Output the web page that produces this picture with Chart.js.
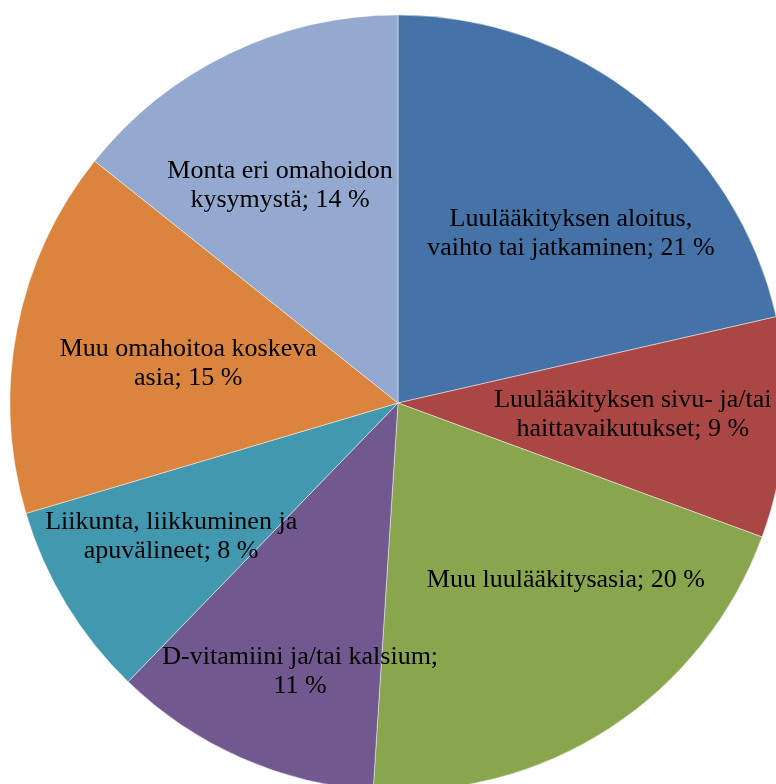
<!DOCTYPE html>
<html lang="fi">
<head>
<meta charset="utf-8">
<title>Yhteydenottojen aiheet</title>
<script src="https://cdn.jsdelivr.net/npm/chart.js@4.4.1/dist/chart.umd.min.js"></script>
<style>
    html, body {
        margin: 0;
        padding: 0;
        width: 776px;
        height: 784px;
        overflow: hidden;
        background: #fff;
    }
    #wrap {
        position: absolute;
        left: 10px;
        top: 15px;
    }
</style>
</head>
<body>
<div id="wrap">
    <canvas id="pieChart" width="776" height="776"></canvas>
</div>
<script>
// Aiheet ('|' = rivinvaihto, lopussa '|' = vaihto ennen prosenttia)
const categories = [
    'Luulääkityksen aloitus,|vaihto tai jatkaminen',
    'Luulääkityksen sivu- ja/tai|haittavaikutukset',
    'Muu luulääkitysasia',
    'D-vitamiini ja/tai kalsium|',
    'Liikunta, liikkuminen ja|apuvälineet',
    'Muu omahoitoa koskeva|asia',
    'Monta eri omahoidon|kysymystä'
];
const shares = [21, 9, 20, 11, 8, 15, 14];
const sliceColors = ['#4572A7', '#AA4643', '#89A54E', '#71588F', '#4198AF', '#DB843D', '#93A9CF'];

// Tekstin sijainti: osuus säteestä ja kulman siirto (astetta)
const labelPlacement = [
    [0.623, 7.1],
    [0.606, -0.8],
    [0.629, -10.4],
    [0.738, -3.9],
    [0.678, 0.8],
    [0.55, -0.5],
    [0.637, -2.8]
];

function labelLines(cat, v) {
    const brk = cat.endsWith('|');
    const name = brk ? cat.slice(0, -1) : cat;
    return (name + ';' + (brk ? '|' : ' ') + v + ' %').split('|');
}

// Piirtää tekstit lohkojen päälle
const sliceLabels = {
    id: 'sliceLabels',
    afterDatasetsDraw(chart) {
        const ctx = chart.ctx;
        const meta = chart.getDatasetMeta(0);
        ctx.save();
        ctx.font = '26px "Liberation Serif", "DejaVu Serif", serif';
        ctx.fillStyle = '#000';
        ctx.textAlign = 'center';
        ctx.textBaseline = 'middle';
        const lineH = 29;
        meta.data.forEach((arc, i) => {
            const p = arc.getProps(['x', 'y', 'startAngle', 'endAngle', 'outerRadius'], true);
            const [f, shift] = labelPlacement[i];
            const a = (p.startAngle + p.endAngle) / 2 + shift * Math.PI / 180;
            const cx = p.x + Math.cos(a) * p.outerRadius * f;
            const cy = p.y + Math.sin(a) * p.outerRadius * f;
            const lines = labelLines(categories[i], shares[i]);
            const top = cy - (lines.length - 1) * lineH / 2;
            lines.forEach((t, j) => ctx.fillText(t, cx, top + j * lineH));
        });
        ctx.restore();
    }
};

const ctx = document.getElementById('pieChart').getContext('2d');
new Chart(ctx, {
    type: 'pie',
    data: {
        labels: categories.map(c => c.replace(/\|/g, ' ').trim()),
        datasets: [{
            data: shares,
            backgroundColor: sliceColors,
            borderColor: 'rgba(255, 255, 255, 0.45)',
            borderWidth: 1,
            radius: 388
        }]
    },
    options: {
        responsive: false,
        animation: false,
        events: [],
        layout: { padding: 0 },
        plugins: {
            legend: { display: false },
            tooltip: { enabled: false }
        }
    },
    plugins: [sliceLabels]
});
</script>
</body>
</html>
